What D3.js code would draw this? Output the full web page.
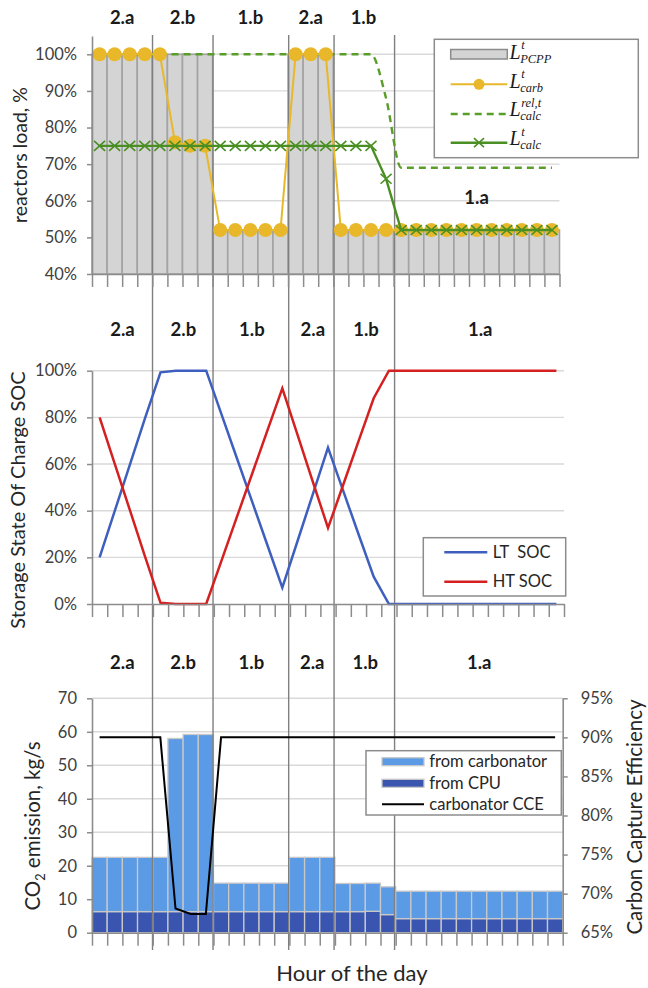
<!DOCTYPE html>
<html><head><meta charset="utf-8">
<script src="https://cdn.jsdelivr.net/npm/d3@7"></script>
<style>
body{margin:0;background:#fff;}
svg{display:block;font-family:Lato,"Open Sans",sans-serif;}
</style></head><body>
<svg id="c" width="648" height="988"></svg>
<script>
// ---------- data ----------
const steps = [1,2,3,4,5,6,7,8,9,10,11,12,13,14,15,16,17,18,19,20,21,22,23,24,25,26,27,28,29,30,31];
const segNames = ["2.a","2.b","1.b","2.a","1.b","1.a"];
const segStart = [0,4,8,13,16,20];

// top chart: reactors load, %
const loadPCPP = [100,100,100,100,100,100,100,100,52,52,52,52,52,100,100,100,52,52,52,52,52,52,52,52,52,52,52,52,52,52,52];
const loadCarb = [100,100,100,100,100,76,75,75,52,52,52,52,52,100,100,100,52,52,52,52,52,52,52,52,52,52,52,52,52,52,52];
const loadCalcRel = [100,100,100,100,100,100,100,100,100,100,100,100,100,100,100,100,100,100,100,88,69,69,69,69,69,69,69,69,69,69,69];
const loadCalc = [75,75,75,75,75,75,75,75,75,75,75,75,75,75,75,75,75,75,75,66,52,52,52,52,52,52,52,52,52,52,52];
const loadTicks = [40,50,60,70,80,90,100];

// middle chart: storage SOC, %
const socLT = [20,40,60,80,99.3,100,100,100,81.4,62.8,44.2,25.6,7,27,47,67,48.5,30,11.7,0,0,0,0,0,0,0,0,0,0,0,0];
const socHT = [80,60,40,20,0.5,0,0,0,18.5,37,55.5,74,92.4,72.5,52.5,32.6,51.1,69.7,88.2,100,100,100,100,100,100,100,100,100,100,100,100];
const socTicks = [0,20,40,60,80,100];

// bottom chart: CO2 emission kg/s, CCE %
const co2CPU = [6.3,6.3,6.3,6.3,6.3,6.3,6.3,6.3,6.3,6.3,6.3,6.3,6.3,6.3,6.3,6.3,6.3,6.3,6.4,5.4,4.2,4.2,4.2,4.2,4.2,4.2,4.2,4.2,4.2,4.2,4.2];
const co2Carb = [16.2,16.2,16.2,16.2,16.2,51.7,52.9,52.9,8.5,8.5,8.5,8.5,8.5,16.2,16.2,16.2,8.4,8.4,8.4,8.3,8.2,8.2,8.2,8.2,8.2,8.2,8.2,8.2,8.2,8.2,8.2];
const cce = [90,90,90,90,90,68.1,67.4,67.4,90,90,90,90,90,90,90,90,90,90,90,90,90,90,90,90,90,90,90,90,90,90,90];
const co2Ticks = [0,10,20,30,40,50,60,70];
const cceTicks = [65,70,75,80,85,90,95];

// ---------- drawing ----------
const svg = d3.select("#c");
const N = steps.length;
const FONT = 'Lato,"Open Sans",sans-serif';
const C = {grid:"#d9d9d9", axis:"#8c8c8c", text:"#404040", title:"#262626",
  bar:"#d4d4d4", barLine:"#a3a3a3", yellow:"#E8B82A", greenD:"#5A9E2A", green:"#4A8F23",
  blue:"#3F5FBF", red:"#D42020", dark:"#3A55B0", light:"#5B9BE6", stackLine:"#c8c8c8"};

function xScales(x0,x1){
  const band = d3.scaleBand().domain(steps).range([x0,x1]).padding(0);
  const lin = d3.scaleLinear().domain([0,N]).range([x0,x1]);
  return {band, lin, x0, x1, c:i=>band(steps[i])+band.bandwidth()/2};
}
function grid(xs,y,vals){
  svg.append("g").selectAll("line").data(vals).join("line")
    .attr("x1",xs.x0).attr("x2",xs.x1).attr("y1",d=>y(d)).attr("y2",d=>y(d))
    .attr("stroke",C.grid).attr("stroke-width",1.4);
}
function styleAxis(g){
  g.attr("font-family",null).attr("font-size",null);
  g.select(".domain").attr("stroke",C.axis).attr("stroke-width",1.6);
  g.selectAll(".tick line").attr("stroke",C.axis).attr("stroke-width",1.5);
  g.selectAll(".tick text").attr("fill",C.text).style("font-size","16.5px").style("font-family",FONT);
}
function leftAxis(x,y,vals,fmt){
  const g = svg.append("g").attr("transform",`translate(${x},0)`)
    .call(d3.axisLeft(y).tickValues(vals).tickFormat(fmt).tickSize(5).tickSizeOuter(0).tickPadding(10));
  styleAxis(g);
}
function rightAxis(x,y,vals,fmt){
  const g = svg.append("g").attr("transform",`translate(${x},0)`)
    .call(d3.axisRight(y).tickValues(vals).tickFormat(fmt).tickSize(5).tickSizeOuter(0).tickPadding(13));
  styleAxis(g);
}
function bottomAxis(xs,y0){
  const g = svg.append("g").attr("transform",`translate(0,${y0})`)
    .call(d3.axisBottom(xs.lin).tickValues(d3.range(0,N+1)).tickSize(13).tickSizeOuter(0).tickFormat(""));
  styleAxis(g);
}
function segLabels(xs,yb,lastY){
  segNames.forEach((s,k)=>{
    const a = segStart[k], b = k<segNames.length-1 ? segStart[k+1] : N;
    svg.append("text").attr("x",(xs.lin(a)+xs.lin(b))/2)
      .attr("y", (k===segNames.length-1 && lastY) ? lastY : yb)
      .attr("text-anchor","middle").attr("font-weight","bold").attr("font-size","18.5px")
      .attr("fill","#1a1a1a").text(s);
  });
}
function vTitle(x,y,parts,size){
  const t = svg.append("text").attr("transform",`translate(${x},${y}) rotate(-90)`)
    .attr("text-anchor","middle").attr("dy","0.35em").attr("font-size",size+"px").attr("fill",C.title);
  parts.forEach(p=>{ const s=t.append("tspan").text(p.t); if(p.sub){s.attr("font-size",(size*0.62)+"px").attr("dy","0.35em");} if(p.after){s.attr("dy","-0.22em");} });
}
function xMark(sel,size,color){
  sel.attr("d",`M${-size},${-size*0.9}L${size},${size*0.9}M${-size},${size*0.9}L${size},${-size*0.9}`)
    .attr("stroke",color).attr("stroke-width",1.6).attr("fill","none");
}

// ===== TOP =====
const xs1 = xScales(92,559.5);
const y1 = d3.scaleLinear().domain([40,105]).range([274,36]);
grid(xs1,y1,loadTicks.slice(1));
svg.append("g").selectAll("rect").data(loadPCPP).join("rect")
  .attr("x",(d,i)=>xs1.band(steps[i])).attr("width",xs1.band.bandwidth())
  .attr("y",d=>y1(d)).attr("height",d=>y1(40)-y1(d))
  .attr("fill",C.bar).attr("stroke",C.barLine).attr("stroke-width",1.6);

// ===== MIDDLE =====
const xs2 = xScales(92,564);
const y2 = d3.scaleLinear().domain([0,100]).range([604,370.7]);
grid(xs2,y2,socTicks.slice(1));

// ===== BOTTOM =====
const xs3 = xScales(92,562.7);
const y3 = d3.scaleLinear().domain([0,70]).range([932.7,698.3]);
const y3r = d3.scaleLinear().domain([65,95]).range([932.7,698.3]);
grid(xs3,y3,co2Ticks.slice(1));
const stackData = steps.map((s,i)=>({s, cpu:co2CPU[i], carb:co2Carb[i]}));
const stacked = d3.stack().keys(["cpu","carb"])(stackData);
svg.append("g").selectAll("g").data(stacked).join("g")
  .attr("fill",d=>d.key==="cpu"?C.dark:C.light)
  .selectAll("rect").data(d=>d).join("rect")
  .attr("x",d=>xs3.band(d.data.s)).attr("width",xs3.band.bandwidth())
  .attr("y",d=>y3(d[1])).attr("height",d=>y3(d[0])-y3(d[1]))
  .attr("stroke",C.stackLine).attr("stroke-width",1.3);

// ===== separators (span all charts) =====
const sepX = d3.scaleLinear().domain([0,N]).range([92,561]);
svg.append("g").selectAll("line").data(segStart.slice(1)).join("line")
  .attr("x1",d=>sepX(d)).attr("x2",d=>sepX(d)).attr("y1",35).attr("y2",950)
  .attr("stroke","#7f7f7f").attr("stroke-width",1.4);

// ----- top lines -----
svg.append("path").datum(loadCalcRel)
  .attr("d",d3.line().x((d,i)=>xs1.c(i)).y(d=>y1(d)).curve(d3.curveMonotoneX))
  .attr("fill","none").attr("stroke",C.greenD).attr("stroke-width",2.4).attr("stroke-dasharray","7,5");
svg.append("path").datum(loadCarb)
  .attr("d",d3.line().x((d,i)=>xs1.c(i)).y(d=>y1(d)))
  .attr("fill","none").attr("stroke",C.yellow).attr("stroke-width",2);
svg.append("g").selectAll("circle").data(loadCarb).join("circle")
  .attr("cx",(d,i)=>xs1.c(i)).attr("cy",d=>y1(d)).attr("r",7).attr("fill",C.yellow);
svg.append("path").datum(loadCalc)
  .attr("d",d3.line().x((d,i)=>xs1.c(i)).y(d=>y1(d)))
  .attr("fill","none").attr("stroke",C.green).attr("stroke-width",2.4);
svg.append("g").selectAll("path").data(loadCalc).join("path")
  .attr("transform",(d,i)=>`translate(${xs1.c(i)},${y1(d)})`).call(xMark,5.5,C.green);
leftAxis(92,y1,loadTicks,d=>d+"%");
bottomAxis(xs1,274);
segLabels(xs1,23.5,204);
vTitle(20,155,[{t:"reactors load, %"}],19.5);

// top legend
svg.append("rect").attr("x",434.3).attr("y",39.3).attr("width",204).attr("height",118.4)
  .attr("fill","#fff").attr("stroke",C.axis).attr("stroke-width",1.5);
const lgX0 = 450.7, lgX1 = 507.3, lgXm = (lgX0+lgX1)/2;
svg.append("rect").attr("x",lgX0).attr("y",49.5).attr("width",lgX1-lgX0).attr("height",9.5)
  .attr("fill",C.bar).attr("stroke",C.axis).attr("stroke-width",1.5);
svg.append("line").attr("x1",lgX0).attr("x2",lgX1).attr("y1",84.3).attr("y2",84.3).attr("stroke",C.yellow).attr("stroke-width",2);
svg.append("circle").attr("cx",lgXm).attr("cy",84.3).attr("r",5.5).attr("fill",C.yellow);
svg.append("line").attr("x1",lgX0).attr("x2",lgX1).attr("y1",114).attr("y2",114).attr("stroke",C.greenD).attr("stroke-width",2.4).attr("stroke-dasharray","7,5");
svg.append("line").attr("x1",lgX0).attr("x2",lgX1).attr("y1",142.7).attr("y2",142.7).attr("stroke",C.green).attr("stroke-width",2.4);
svg.append("path").attr("transform",`translate(${lgXm},142.7)`).call(xMark,5,C.green);
const mathLab = [["t","PCPP",58.5],["t","carb",87.5],["rel,t","calc",116],["t","calc",145]];
const SERIF = "'Liberation Serif','DejaVu Serif',serif";
mathLab.forEach(([sup,sub,yb])=>{
  const L = svg.append("text").attr("x",509.5).attr("y",yb).attr("font-family",SERIF)
    .attr("font-style","italic").attr("font-size","20px").attr("fill","#1a1a1a").text("L");
  const w = L.node().getComputedTextLength();
  svg.append("text").attr("x",509.5+w+0.5).attr("y",yb-9.5).attr("font-family",SERIF)
    .attr("font-style","italic").attr("font-size","12.5px").attr("fill","#1a1a1a").text(sup);
  svg.append("text").attr("x",509.5+w-0.5).attr("y",yb+4).attr("font-family",SERIF)
    .attr("font-style","italic").attr("font-size","12.5px").attr("fill","#1a1a1a").text(sub);
});

// ----- middle lines -----
svg.append("path").datum(socLT).attr("d",d3.line().x((d,i)=>xs2.c(i)).y(d=>y2(d)))
  .attr("fill","none").attr("stroke",C.blue).attr("stroke-width",2.5);
svg.append("path").datum(socHT).attr("d",d3.line().x((d,i)=>xs2.c(i)).y(d=>y2(d)))
  .attr("fill","none").attr("stroke",C.red).attr("stroke-width",2.5);
leftAxis(92,y2,socTicks,d=>d+"%");
bottomAxis(xs2,604);
segLabels(xs2,335.5);
vTitle(18,500,[{t:"Storage State Of Charge SOC"}],20);
svg.append("rect").attr("x",423.3).attr("y",537.7).attr("width",142.4).attr("height",58.3)
  .attr("fill","#fff").attr("stroke",C.axis).attr("stroke-width",1.5);
[["LT  SOC",C.blue,552.3],["HT SOC",C.red,581.7]].forEach(([t,c,yy])=>{
  svg.append("line").attr("x1",444.3).attr("x2",487.3).attr("y1",yy).attr("y2",yy).attr("stroke",c).attr("stroke-width",2.5);
  svg.append("text").attr("x",492.7).attr("y",yy).attr("dy","0.35em").attr("font-size","16.5px").attr("fill",C.title)
    .attr("xml:space","preserve").style("white-space","pre").text(t);
});

// ----- bottom line -----
svg.append("path").datum(cce).attr("d",d3.line().x((d,i)=>xs3.c(i)).y(d=>y3r(d)))
  .attr("fill","none").attr("stroke","#000").attr("stroke-width",2);
leftAxis(92,y3,co2Ticks,d=>d);
rightAxis(562.7,y3r,cceTicks,d=>d+"%");
bottomAxis(xs3,932.7);
segLabels(xs3,668.5);
vTitle(33,826,[{t:"CO"},{t:"2",sub:true},{t:" emission, kg/s",after:true}],20.5);
vTitle(634.5,817,[{t:"Carbon Capture Efficiency"}],20.5);
svg.append("text").attr("x",352).attr("y",981).attr("text-anchor","middle").attr("font-size","22px")
  .attr("fill",C.title).text("Hour of the day");
svg.append("rect").attr("x",366).attr("y",750.7).attr("width",195.3).attr("height",64.3)
  .attr("fill","#fff").attr("stroke",C.axis).attr("stroke-width",1.5);
[["from carbonator",C.light,761.7],["from CPU",C.dark,783.3]].forEach(([t,c,yy])=>{
  svg.append("rect").attr("x",382).attr("y",yy-4).attr("width",42).attr("height",8)
    .attr("fill",c).attr("stroke",C.stackLine).attr("stroke-width",1.3);
  svg.append("text").attr("x",429.3).attr("y",yy).attr("dy","0.35em").attr("font-size","16.5px").attr("fill",C.title).text(t);
});
svg.append("line").attr("x1",382).attr("x2",424).attr("y1",804.3).attr("y2",804.3).attr("stroke","#000").attr("stroke-width",2);
svg.append("text").attr("x",429.3).attr("y",804.3).attr("dy","0.35em").attr("font-size","16.5px").attr("fill",C.title).text("carbonator CCE");
</script>
</body></html>
